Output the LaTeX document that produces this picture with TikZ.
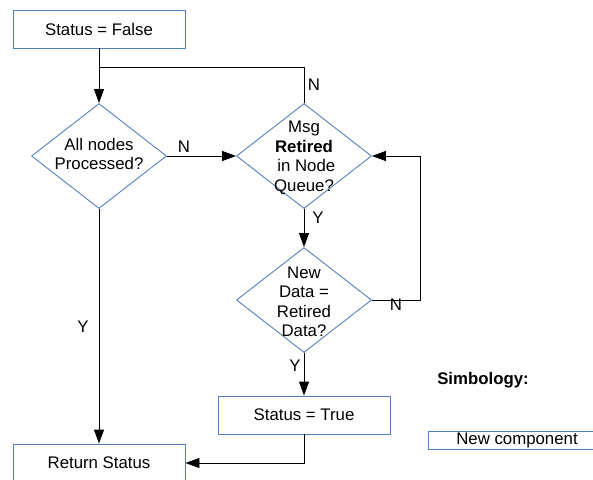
\documentclass[tikz,border=0pt]{standalone}
\usepackage{fontspec}
\setmainfont{Liberation Sans}
\usetikzlibrary{shapes.geometric,arrows.meta}
\definecolor{boxblue}{RGB}{84,128,190}
\newcommand{\flowfont}{\fontsize{16.8}{19.5}\selectfont}
\tikzset{
  txt/.style={font=\flowfont, inner sep=0pt},
  procbox/.style={draw=boxblue, line width=0.9pt, minimum width=172pt, minimum height=38pt, inner sep=0pt, font=\flowfont},
  decision/.style={draw=boxblue, line width=0.9pt, diamond, minimum width=135pt, minimum height=105pt, inner sep=0pt},
  dtext/.style={txt, align=center},
  flow/.style={line width=0.9pt, black},
  arr/.style={flow, -{Triangle[length=14pt,width=10pt]}},
  lbl/.style={txt}
}
\begin{document}
\begin{tikzpicture}[x=1pt,y=-1pt]
\useasboundingbox (0,0) rectangle (593,479);

% process boxes
\node[procbox] (sf) at (99,29) {Status = False};
\node[procbox] (st) at (304,415) {Status = True};
\node[procbox] (rs) at (99,463) {Return Status};

% decisions
\node[decision] (d1) at (99,156) {};
\node[dtext] (t1) at (99,154) {All nodes\\Processed?};
\node[decision] (d2) at (304,156) {};
\node[dtext] (t2) at (304,158) {Msg\\\textbf{Retired}\\\ in Node\\Queue?};
\node[decision] (d3) at (304,300) {};
\node[dtext] (t3) at (304,302) {New\\Data =\\Retired\\Data?};

% junction points
\coordinate (j) at (99,67);
\coordinate (loopR) at (420,300);

% connectors
\draw[arr] (sf.south) -- (d1.north);
\draw[flow] (d2.north) |- (j);
\draw[arr] (d1.east) -- (d2.west);
\draw[arr] (d2.south) -- (d3.north);
\draw[arr] (d3.east) -- (loopR) |- (d2.east);
\draw[arr] (d3.south) -- (st.north);
\draw[arr] (d1.south) -- (rs.north);
\draw[arr] (st.south) |- (rs.east);

% branch labels
\node[lbl] (n1) at (314,85) {N};
\node[lbl] (n2) at (184,147) {N};
\node[lbl] (y1) at (318,218) {Y};
\node[lbl] (n3) at (396,305) {N};
\node[lbl] (y2) at (295,366) {Y};
\node[lbl] (y3) at (83,327) {Y};

% legend
\node[txt, font=\flowfont\bfseries] (simb) at (483,380) {Simbology:};
\node[draw=boxblue, line width=0.9pt, minimum width=178pt, minimum height=18pt, inner sep=0pt, font=\flowfont] (newc) at (517,440) {New component};
\end{tikzpicture}
\end{document}
